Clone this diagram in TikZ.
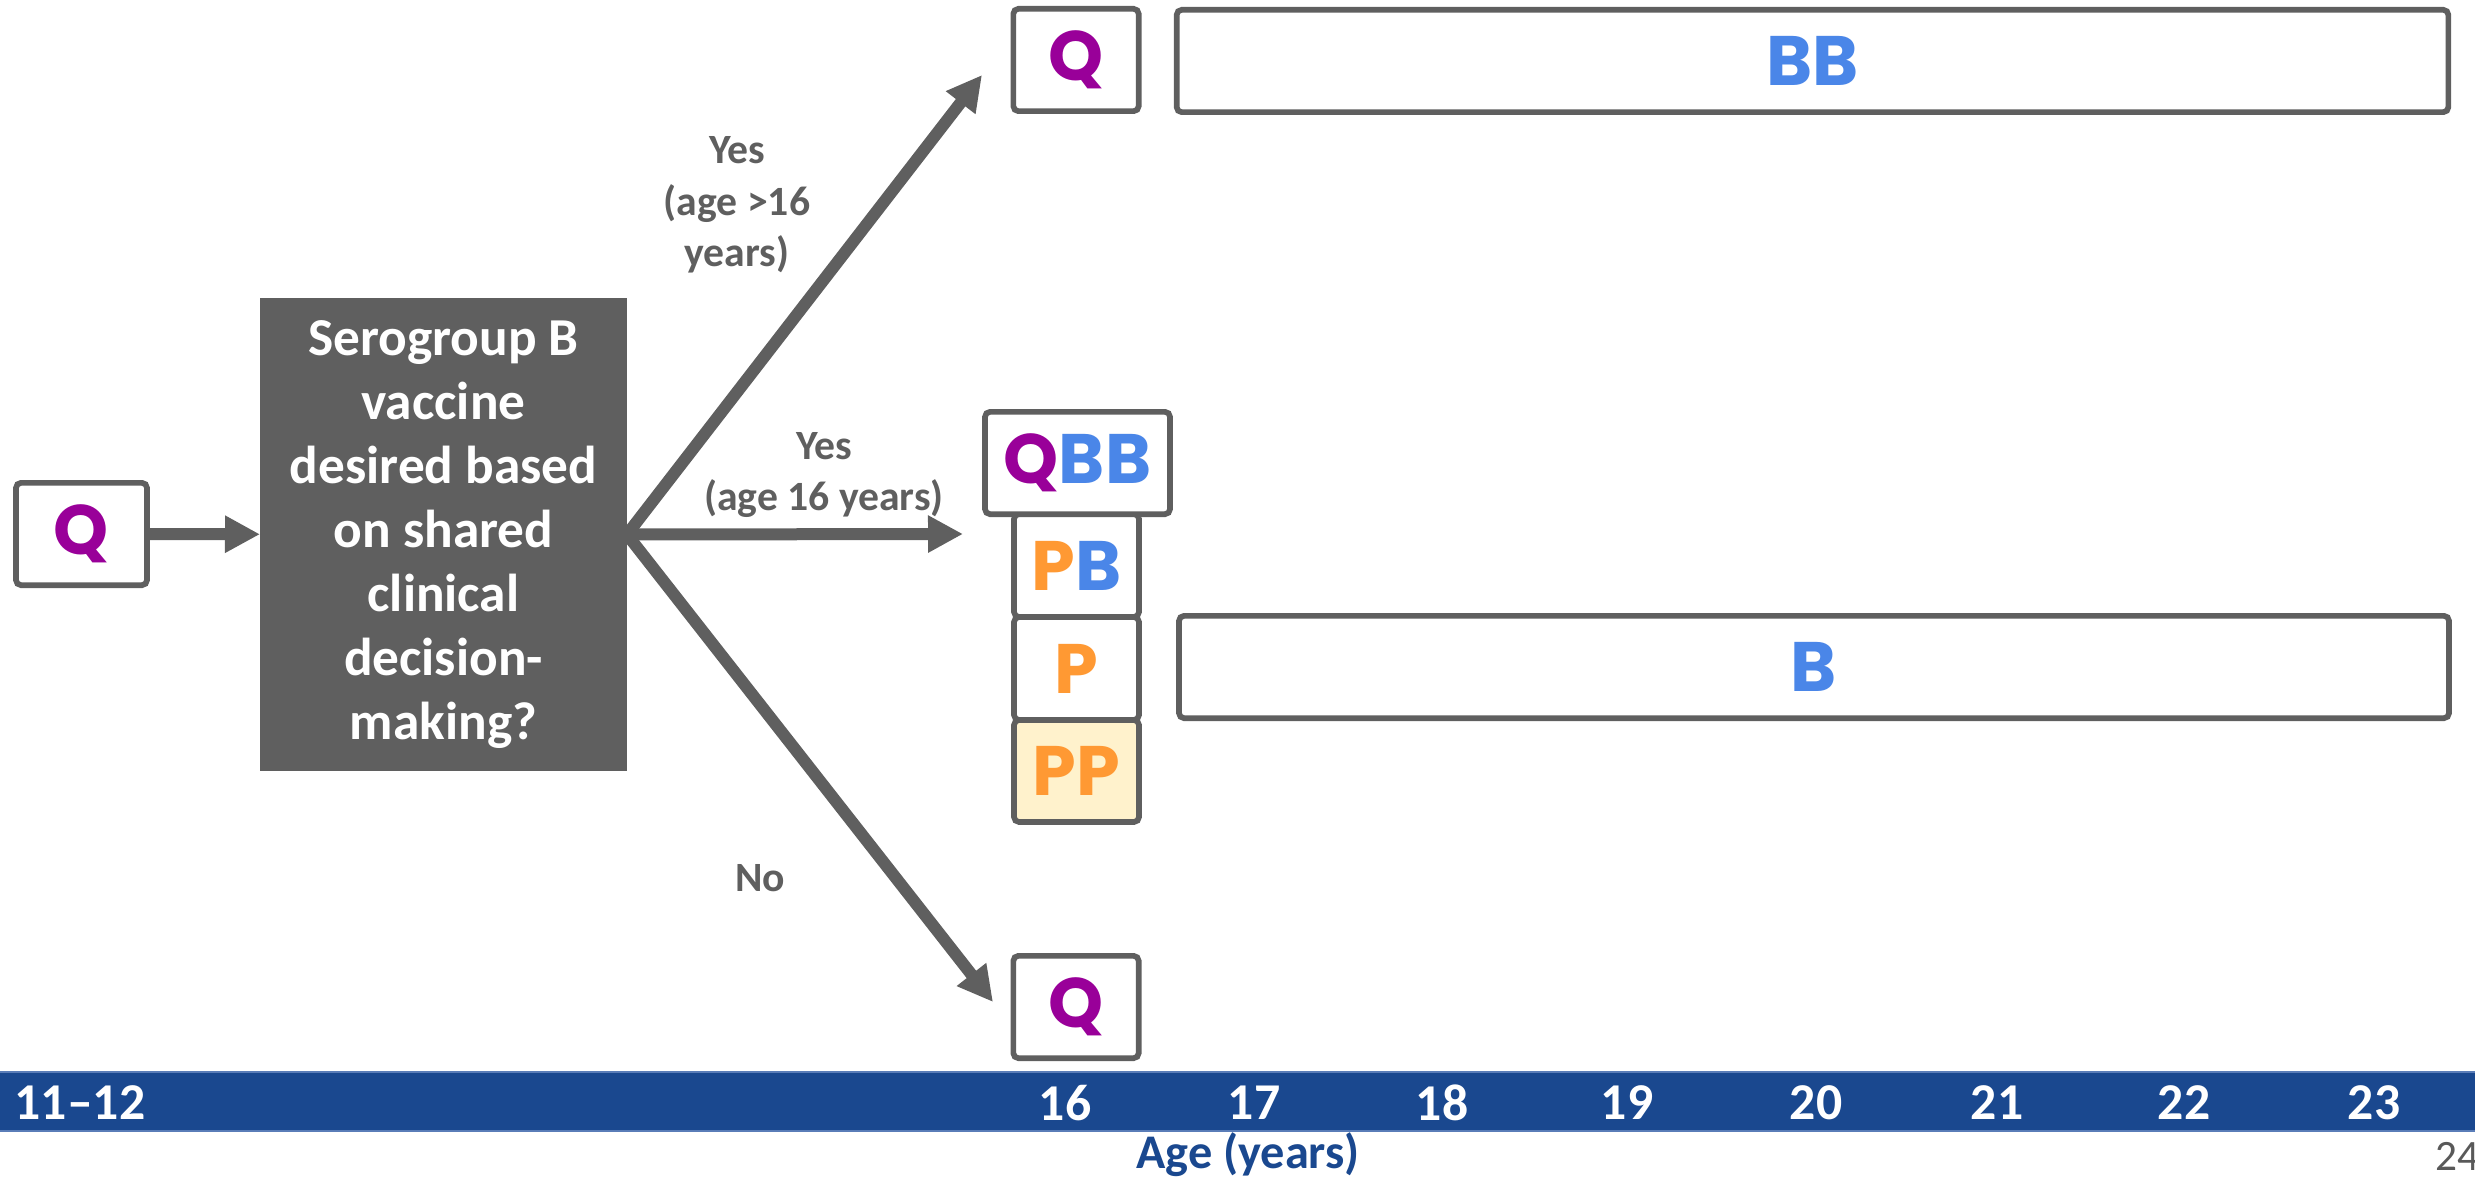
\documentclass[tikz,border=0pt]{standalone}
\usepackage{fontspec}
\setmainfont{Carlito}
\newfontfamily\vaccfont{Poppins}
\usetikzlibrary{arrows.meta}

\definecolor{boxgray}{HTML}{5F5F5F}
\definecolor{cQ}{HTML}{990099}
\definecolor{cB}{HTML}{4A86E8}
\definecolor{cP}{HTML}{FF9933}
\definecolor{ppfill}{HTML}{FFF2CC}
\definecolor{bandblue}{HTML}{1A488F}
\definecolor{bandedge}{HTML}{5A7DB8}
\definecolor{pagegray}{HTML}{595959}

% vaccine letters
\newcommand\vQ{\textcolor{cQ}{Q}}
\newcommand\vB{\textcolor{cB}{B}}
\newcommand\vP{\textcolor{cP}{P}}

\begin{document}
\begin{tikzpicture}[x=0.3pt,y=-0.3pt,
  vbox/.style={draw=boxgray,line width=1.7pt,rounded corners=1.5pt,fill=white,
    inner sep=0pt,minimum height=30.7pt,
    font=\vaccfont\bfseries\fontsize{21}{24}\selectfont},
  smallbox/.style={vbox,minimum width=37.6pt},
  longbox/.style={vbox,minimum width=381.5pt},
  decision/.style={fill=boxgray,text=white,inner sep=0pt,outer sep=0pt,
    minimum width=110.1pt,minimum height=141.9pt,align=center,
    font=\bfseries\fontsize{16}{19.2}\selectfont},
  flow/.style={draw=boxgray,line width=3.6pt,
    -{Triangle[length=10.5pt,width=10.5pt]}},
  branchlbl/.style={text=boxgray,align=center,inner sep=0pt,
    font=\bfseries\fontsize{12.5}{15.5}\selectfont},
  agelbl/.style={text=white,inner sep=0pt,
    font=\bfseries\fontsize{15.5}{18}\selectfont},
  band/.style={fill=bandblue,draw=bandedge,line width=0.5pt,inner sep=0pt,
    minimum width=743pt,minimum height=17.7pt},
]
\useasboundingbox (0,0) rectangle (2475,1179);

% starting dose and decision
\node[vbox,minimum width=39.3pt] (q0) at (81.5,534) {\vQ};
\node[decision] (dec) at (443.5,534.5)
  {Serogroup B\\vaccine\\desired based\\on shared\\clinical\\decision-\\making?};

% arrow tips of the three branches
\coordinate (tipA) at (982,75);
\coordinate (tipB) at (963,534);
\coordinate (tipC) at (993,1002);

\draw[flow] (q0) -- (dec);
\draw[flow] (dec.east) -- (tipA);
\draw[flow] (dec.east) -- (tipB);
\draw[flow] (dec.east) -- (tipC);

% branch labels
\node[branchlbl] (lblA) at (737,205) {Yes\\(age >16\\years)};
\node[branchlbl] (lblB) at (824,475) {Yes\\(age 16 years)};
\node[branchlbl] (lblC) at (760,878) {No};

% older than 16
\node[smallbox] (qA) at (1076,60) {\vQ};
\node[longbox] (bbA) at (1812.5,61) {\vB\vB};

% at 16: stacked options
\node[smallbox,minimum width=37.5pt,minimum height=30.6pt,fill=ppfill] (ppB) at (1076.5,771) {\vP\vP};
\node[smallbox,minimum width=37.5pt,minimum height=30.9pt] (pB) at (1076.5,668.5) {\vP};
\node[smallbox,minimum width=37.5pt,minimum height=30.9pt] (pbB) at (1076.5,565.5) {\vP\vB};
\node[vbox,minimum width=55.5pt] (qbbB) at (1077.5,463) {\vQ\vB\vB};
\node[longbox,minimum width=381pt] (bB) at (1814,667) {\vB};

% no serogroup B vaccine
\node[smallbox] (qC) at (1076,1007) {\vQ};

% age axis
\node[band] (axis) at (1237.5,1101.5) {};
\node[agelbl] (a1112) at (80,1103) {11--12};
\node[agelbl] (a16) at (1065,1103) {16};
\node[agelbl] (a17) at (1254,1103) {17};
\node[agelbl] (a18) at (1442,1103) {18};
\node[agelbl] (a19) at (1627,1103) {19};
\node[agelbl] (a20) at (1816,1103) {20};
\node[agelbl] (a21) at (1997,1103) {21};
\node[agelbl] (a22) at (2184,1103) {22};
\node[agelbl] (a23) at (2374,1103) {23};
\node[text=bandblue,inner sep=0pt,anchor=base,
  font=\bfseries\fontsize{14.5}{17}\selectfont] (axtitle) at (1248,1168) {Age (years)};
\node[text=pagegray,inner sep=0pt,anchor=base west,
  font=\fontsize{13}{15}\selectfont] (pageno) at (2435,1170) {24};
\end{tikzpicture}
\end{document}
